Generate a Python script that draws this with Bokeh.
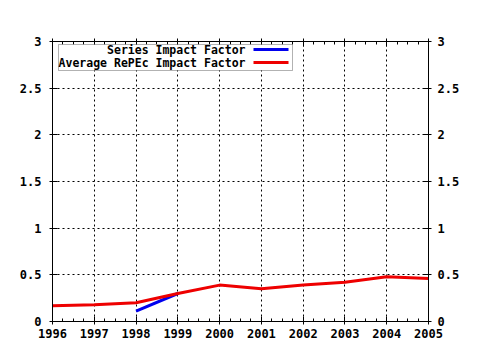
from bokeh.plotting import figure
from bokeh.models import (Range1d, LinearAxis, FixedTicker, Label, BoxAnnotation,
                          ColumnDataSource)
from bokeh.embed import file_html
from bokeh.resources import INLINE

years = [1996, 1997, 1998, 1999, 2000, 2001, 2002, 2003, 2004, 2005]
avg_repec_if = [0.17, 0.18, 0.20, 0.30, 0.39, 0.35, 0.39, 0.42, 0.48, 0.46]
series_years = [1998, 1999]
series_if = [0.11, 0.30]
y_ticks = [0, 0.5, 1, 1.5, 2, 2.5, 3]
y_tick_labels = {0: "0", 0.5: "0.5", 1: "1", 1.5: "1.5", 2: "2", 2.5: "2.5", 3: "3"}
series_names = ["Series Impact Factor", "Average RePEc Impact Factor"]
series_colors = ["#0000ee", "#ee0000"]

FONT = "DejaVu Sans Mono"
FS = "12px"

p = figure(width=480, height=350, output_backend="svg", toolbar_location=None,
           x_range=Range1d(1996, 2005), y_range=Range1d(0, 3),
           x_axis_location=None, y_axis_location=None,
           min_border_left=52, min_border_right=52, min_border_top=41, min_border_bottom=29)
p.background_fill_color = "white"
p.border_fill_color = "white"
p.outline_line_color = "black"
p.outline_line_width = 1

minor_x = [y + f for y in years[:-1] for f in (0.25, 0.5, 0.75)]
xt = FixedTicker(ticks=years, minor_ticks=minor_x)
yt = FixedTicker(ticks=y_ticks)


def style(ax):
    ax.axis_line_color = "black"
    ax.major_tick_line_color = "black"
    ax.minor_tick_line_color = "black"
    ax.major_tick_in = 5
    ax.major_tick_out = 3
    ax.minor_tick_in = 3
    ax.minor_tick_out = 0
    ax.major_label_text_font = FONT
    ax.major_label_text_font_style = "bold"
    ax.major_label_text_font_size = FS
    ax.major_label_text_color = "black"


bx = LinearAxis(ticker=xt)
style(bx)
bx.major_label_standoff = 4
tx = LinearAxis(ticker=xt, major_label_overrides={y: "" for y in years})
style(tx)
ly = LinearAxis(ticker=yt, major_label_overrides=y_tick_labels)
style(ly)
ly.major_label_standoff = 8
ly.minor_tick_line_color = None
ry = LinearAxis(ticker=yt, major_label_overrides=y_tick_labels)
style(ry)
ry.major_label_standoff = 6
ry.minor_tick_line_color = None
p.add_layout(bx, "below")
p.add_layout(tx, "above")
p.add_layout(ly, "left")
p.add_layout(ry, "right")

p.xgrid.ticker = xt
p.ygrid.ticker = yt
for g in (p.xgrid[0], p.ygrid[0]):
    g.grid_line_color = "black"
    g.grid_line_dash = "2 3"
    g.grid_line_width = 1

src_s = ColumnDataSource(dict(x=series_years, y=series_if))
src_a = ColumnDataSource(dict(x=years, y=avg_repec_if))
p.line("x", "y", source=src_s, line_color=series_colors[0], line_width=3)
p.line("x", "y", source=src_a, line_color=series_colors[1], line_width=3)

# legend frame (gnuplot style: text right-aligned, sample line to the right)
box = BoxAnnotation(left=6, right=240, top=277, bottom=251,
                    left_units="screen", right_units="screen",
                    top_units="screen", bottom_units="screen",
                    fill_color="white", fill_alpha=1, line_color="black", line_width=1)
p.add_layout(box)

for name, col, yy in zip(series_names, series_colors, [272, 259]):
    p.add_layout(Label(x=193, y=yy, x_units="screen", y_units="screen", text=name,
                       text_font=FONT, text_font_style="bold", text_font_size="11.5px",
                       text_align="right", text_baseline="middle", text_color="black"))
    p.add_layout(BoxAnnotation(left=201, right=236, top=yy + 1.5, bottom=yy - 1.5,
                               left_units="screen", right_units="screen",
                               top_units="screen", bottom_units="screen",
                               fill_color=col, fill_alpha=1, line_color=None))

open("out.html", "w").write(file_html(p, INLINE))
